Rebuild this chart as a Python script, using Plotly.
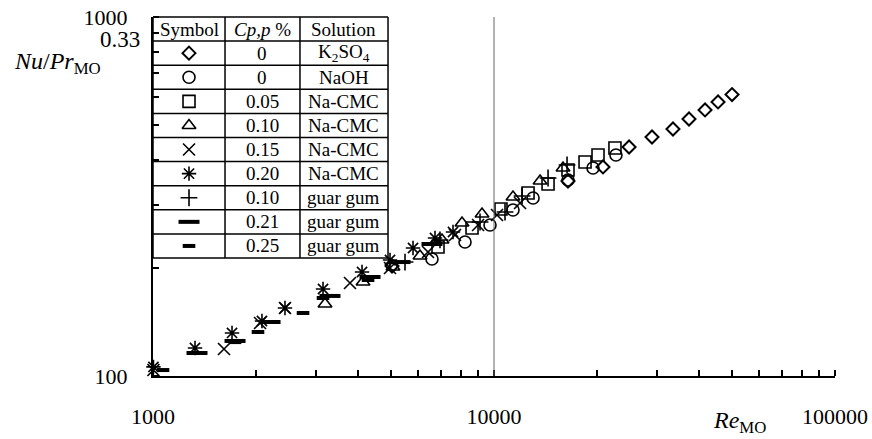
import plotly.graph_objects as go

# ---- data (Re_MO, Nu/Pr^0.33) ----
k2so4_re = [5022, 16482, 20875, 24892, 29063, 33484, 37311, 41577, 45394, 49895]
k2so4_nu = [202.5, 349.3, 382.2, 434.4, 463.2, 487.6, 519.9, 550.9, 579.9, 608.0]

naoh_re = [6579, 8222, 9734, 11369, 13019, 16482, 19513, 22787]
naoh_nu = [211.8, 236.2, 263.4, 290.0, 313.2, 351.6, 379.7, 412.7]

cmc05_re = [6852, 8621, 10484, 12586, 14405, 16482, 18490, 20184, 22632]
cmc05_nu = [228.7, 258.3, 291.9, 323.4, 342.6, 374.9, 394.6, 412.7, 431.6]

cmc10_re = [3195, 4130, 5056, 6067, 7039, 8057, 9222, 11369, 13649, 15937]
cmc10_nu = [158.7, 182.7, 201.2, 215.9, 239.3, 266.8, 282.7, 315.2, 349.3, 379.7]

cmc15_re = [1003, 1615, 2060, 2438, 3782, 4955, 6404, 7684, 8980, 10205, 11923]
cmc15_nu = [103.9, 118.9, 140.5, 154.7, 181.6, 199.9, 221.5, 247.0, 263.4, 280.9, 303.3]

cmc20_re = [1003, 1328, 1705, 2087, 2438, 3152, 4102, 4955, 5788, 6714, 7582]
cmc20_nu = [106.0, 119.7, 131.8, 142.3, 154.7, 174.7, 194.9, 210.4, 227.3, 242.3, 251.8]

guar10_re = [5483, 6944, 9099, 10771, 12086, 14405, 16376]
guar10_nu = [207.7, 239.3, 268.5, 286.3, 317.2, 356.1, 387.1]

guar21_re = [1346, 1740, 2204, 3304, 4330, 5301, 6579]
guar21_nu = [115.9, 125.2, 141.4, 167.1, 188.7, 207.7, 233.2]

guar25_re = [1070, 1740, 2032, 2754, 3152, 4272]
guar25_nu = [103.9, 124.3, 132.6, 149.8, 164.9, 185.1]

cp_labels = ["0", "0", "0.05", "0.10", "0.15", "0.20", "0.10", "0.21", "0.25"]
solutions = ["K<sub>2</sub>SO<sub>4</sub>", "NaOH", "Na-CMC", "Na-CMC", "Na-CMC",
             "Na-CMC", "guar gum", "guar gum", "guar gum"]
x_tickvals = [1000, 10000, 100000]
y_tickvals = [100, 1000]

FONT = "Liberation Serif"

styles = [
    dict(symbol="diamond-open", size=10, line=dict(width=2, color="black")),
    dict(symbol="circle-open", size=12, line=dict(width=1.6, color="black")),
    dict(symbol="square-open", size=12, line=dict(width=1.6, color="black")),
    dict(symbol="triangle-up-open", size=12, line=dict(width=1.6, color="black")),
    dict(symbol="x-thin-open", size=12, line=dict(width=1.6, color="black")),
    dict(symbol="asterisk-open", size=12, line=dict(width=1.6, color="black")),
    dict(symbol="cross-thin-open", size=12, line=dict(width=1.6, color="black")),
    dict(symbol="line-ew-open", size=15, line=dict(width=4, color="black")),
    dict(symbol="line-ew-open", size=9, line=dict(width=4, color="black")),
]

series = [
    (k2so4_re, k2so4_nu), (naoh_re, naoh_nu), (cmc05_re, cmc05_nu),
    (cmc10_re, cmc10_nu), (cmc15_re, cmc15_nu), (cmc20_re, cmc20_nu),
    (guar10_re, guar10_nu), (guar21_re, guar21_nu), (guar25_re, guar25_nu),
]

fig = go.Figure()
for (xs, ys), st in zip(series, styles):
    fig.add_trace(go.Scatter(x=xs, y=ys, mode="markers", marker=dict(color="black", **st),
                             cliponaxis=False, showlegend=False, hoverinfo="skip"))

# ---- table geometry (paper coords over plot area) ----
tx0, tx1 = 0.0, 0.3446
col1, col2 = 0.1056, 0.2155
ty_top, ty_bot = 1.0, 0.3287
nrows = 10
rh = (ty_top - ty_bot) / nrows

shapes = []
lw = 1.5
for i in range(nrows + 1):
    yy = ty_top - i * rh
    shapes.append(dict(type="line", xref="paper", yref="paper", x0=tx0, x1=tx1, y0=yy, y1=yy,
                       line=dict(color="black", width=lw)))
for xx in [tx0, col1, col2, tx1]:
    shapes.append(dict(type="line", xref="paper", yref="paper", x0=xx, x1=xx, y0=ty_bot, y1=ty_top,
                       line=dict(color="black", width=lw)))
# reference line at Re = 10000
shapes.append(dict(type="line", xref="x", yref="paper", x0=10000, x1=10000, y0=0, y1=1,
                   line=dict(color="#666666", width=1)))

annotations = []
tfont = dict(family=FONT, size=19, color="black")
headers = ["Symbol", "<i>Cp,p</i> %", "Solution"]
centers = [(tx0 + col1) / 2, (col1 + col2) / 2, (col2 + tx1) / 2]
yc = ty_top - rh / 2
for h, cx in zip(headers, centers):
    annotations.append(dict(x=cx, y=yc, xref="paper", yref="paper", text=h, showarrow=False,
                            font=tfont, xanchor="center", yanchor="middle"))
sym_y = []
for i in range(9):
    yc = ty_top - (i + 1.5) * rh
    sym_y.append(yc)
    annotations.append(dict(x=centers[1], y=yc, xref="paper", yref="paper", text=cp_labels[i],
                            showarrow=False, font=tfont, xanchor="center", yanchor="middle"))
    annotations.append(dict(x=centers[2], y=yc, xref="paper", yref="paper", text=solutions[i],
                            showarrow=False, font=tfont, xanchor="center", yanchor="middle"))

for st, yc in zip(styles, sym_y):
    fig.add_trace(go.Scatter(x=[centers[0]], y=[yc], xaxis="x2", yaxis="y2", mode="markers",
                             marker=dict(color="black", **st), showlegend=False, hoverinfo="skip",
                             cliponaxis=False))

# axis titles
annotations.append(dict(x=-0.207, y=0.872, xref="paper", yref="paper",
                        text="<i>Nu</i>/<i>Pr</i><sub>MO</sub>", showarrow=False,
                        font=dict(family=FONT, size=24, color="black"), xanchor="left", yanchor="middle"))
annotations.append(dict(x=-0.016, y=0.936, xref="paper", yref="paper", text="0.33", showarrow=False,
                        font=dict(family=FONT, size=23, color="black"), xanchor="right", yanchor="middle"))
annotations.append(dict(x=0.86, y=-0.128, xref="paper", yref="paper",
                        text="<i>Re</i><sub>MO</sub>", showarrow=False,
                        font=dict(family=FONT, size=24, color="black"), xanchor="center", yanchor="middle"))

fig.update_layout(
    width=872, height=439,
    margin=dict(l=153, r=37, t=17, b=63, autoexpand=False),
    paper_bgcolor="white", plot_bgcolor="white",
    font=dict(family=FONT, size=22, color="black"),
    xaxis=dict(type="log", range=[3, 5], tickvals=x_tickvals, ticktext=[str(v) for v in x_tickvals],
               showgrid=False, zeroline=False, showline=True, linecolor="black", linewidth=2,
               ticks="", ticklabelstandoff=20, automargin=False,
               tickfont=dict(family=FONT, size=22, color="black"),
               minor=dict(ticks="inside", ticklen=6, tickwidth=2, tickcolor="black", dtick="D1", showgrid=False)),
    yaxis=dict(type="log", range=[2, 3], tickvals=y_tickvals, ticktext=[str(v) for v in y_tickvals],
               showgrid=False, zeroline=False, showline=True, linecolor="black", linewidth=2,
               ticks="", ticklabelstandoff=19, automargin=False,
               tickfont=dict(family=FONT, size=22, color="black"),
               minor=dict(ticks="inside", ticklen=6, tickwidth=2, tickcolor="black", dtick="D1", showgrid=False)),
    xaxis2=dict(overlaying="x", range=[0, 1], visible=False, fixedrange=True),
    yaxis2=dict(overlaying="y", range=[0, 1], visible=False, fixedrange=True),
    shapes=shapes,
    annotations=annotations,
)

fig.write_html("out.html", config={"displayModeBar": False, "staticPlot": True},
               post_script="document.body.style.margin='0';document.body.style.overflow='hidden';")
